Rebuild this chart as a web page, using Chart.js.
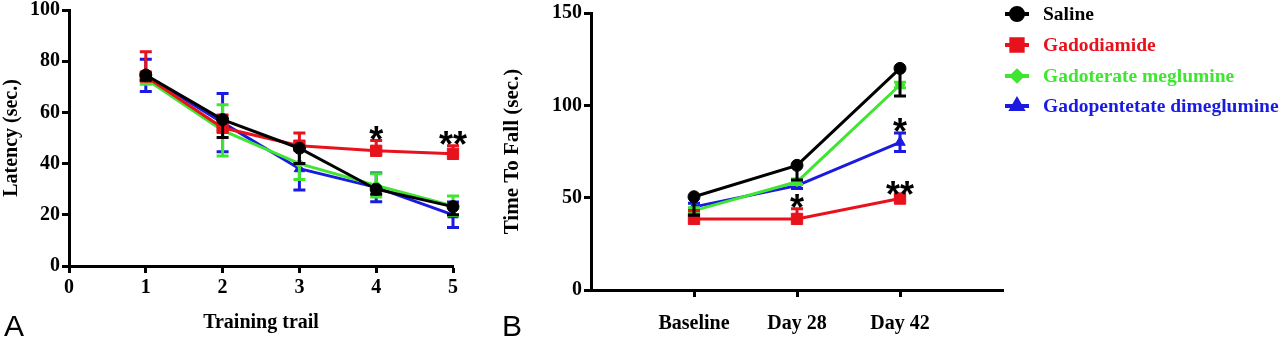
<!DOCTYPE html>
<html>
<head>
<meta charset="utf-8">
<script src="https://cdn.jsdelivr.net/npm/chart.js@4.4.0/dist/chart.umd.min.js"></script>
<style>
  html, body { margin: 0; padding: 0; background: #fff; }
  #wrap { position: relative; width: 1280px; height: 339px; overflow: hidden; }
  #panelA { position: absolute; left: 0; top: 0; }
  #panelB { position: absolute; left: 480px; top: 0; }
  .tag { position: absolute; font: 30px "Liberation Sans", Arial, sans-serif; line-height: 30px; color: #000; }
</style>
</head>
<body>
<div id="wrap">
  <canvas id="panelA" width="480" height="339"></canvas>
  <canvas id="panelB" width="800" height="339"></canvas>
  <div class="tag" style="left:4px; top:311px;">A</div>
  <div class="tag" style="left:502px; top:311px;">B</div>
</div>
<script>
// groups
const groups = ['Saline', 'Gadodiamide', 'Gadoterate meglumine', 'Gadopentetate dimeglumine'];
const colors = ['#000000', '#e8121c', '#3fe530', '#1a1ae0'];
const markers = ['circle', 'rect', 'rectRot', 'triangle'];
const markerSizes = [6, 8, 5, 6];
// which side of the mean each group's SEM bar is drawn on
const barSides = ['down', 'up', 'both', 'both'];

// panel A: latency per training trial
const trials = [1, 2, 3, 4, 5];
const salineA = [74.6, 57.2, 46, 30, 23.2];
const gadodiamideA = [74, 54, 47, 45, 43.8];
const gadoterateA = [73, 53, 40, 31.5, 23.5];
const gadopentetateA = [74.5, 56, 38, 30.7, 20];
const salineAErr = [2, 7, 6, 2, 3.2];
const gadodiamideAErr = [9.7, 5, 5, 4, 3.2];
const gadoterateAErr = [2, 10, 6.2, 4.5, 3.8];
const gadopentetateAErr = [6.3, 11.4, 8.3, 5.6, 5];
// significance marks: [group index, trial, text]
const sigA = [[1, 4, '*'], [1, 5, '**']];

// panel B: time to fall per session
const sessions = ['Baseline', 'Day 28', 'Day 42'];
const salineB = [50.5, 67.5, 120];
const gadodiamideB = [38.5, 38.5, 49.5];
const gadoterateB = [43, 58.6, 111];
const gadopentetateB = [45, 56.5, 80];
const salineBErr = [10, 8, 15];
const gadodiamideBErr = [4.5, 5.5, 1.5];
const gadoterateBErr = [1.5, 1.5, 1.5];
const gadopentetateBErr = [2, 1.5, 5];
const sigB = [[1, 2, '*'], [3, 3, '*'], [1, 3, '**']];

const serif = '"Liberation Serif", "Times New Roman", serif';

function makeDatasets(xs, series, errs) {
  return series.map((vals, g) => ({
    label: groups[g],
    data: vals.map((v, i) => ({ x: xs[i], y: v })),
    errors: errs[g],
    side: barSides[g],
    borderColor: colors[g],
    backgroundColor: colors[g],
    pointBackgroundColor: colors[g],
    pointBorderColor: colors[g],
    pointStyle: markers[g],
    pointRadius: markerSizes[g],
    pointBorderWidth: 1,
    borderWidth: 3,
    tension: 0,
    clip: false
  }));
}

// SEM whiskers, drawn just under each group's own line
const errorBars = {
  id: 'errorBars',
  beforeDatasetDraw(chart, args) {
    const ds = chart.data.datasets[args.index];
    const y = chart.scales.y;
    const ctx = chart.ctx;
    ctx.save();
    ctx.strokeStyle = ds.borderColor;
    ctx.lineWidth = 3;
    args.meta.data.forEach((pt, i) => {
      const v = ds.data[i].y, e = ds.errors[i];
      const ends = [];
      if (ds.side !== 'down') ends.push(y.getPixelForValue(v + e));
      if (ds.side !== 'up') ends.push(y.getPixelForValue(v - e));
      ends.forEach(py => {
        ctx.beginPath();
        ctx.moveTo(pt.x, pt.y);
        ctx.lineTo(pt.x, py);
        ctx.moveTo(pt.x - 6, py);
        ctx.lineTo(pt.x + 6, py);
        ctx.stroke();
      });
    });
    ctx.restore();
  }
};

// asterisks above the SEM bar of the flagged group
const sigMarks = {
  id: 'sigMarks',
  afterDatasetsDraw(chart, args, opts) {
    const ctx = chart.ctx;
    const y = chart.scales.y, x = chart.scales.x;
    ctx.save();
    ctx.fillStyle = '#000';
    ctx.font = 'bold 36px "Liberation Sans", Arial, sans-serif';
    ctx.textAlign = 'center';
    ctx.textBaseline = 'alphabetic';
    opts.marks.forEach(([g, xv, text]) => {
      const ds = chart.data.datasets[g];
      const i = ds.data.findIndex(p => p.x === xv);
      const top = ds.data[i].y + (ds.side === 'down' ? 0 : ds.errors[i]);
      const py = y.getPixelForValue(top);
      ctx.fillText(text, x.getPixelForValue(xv), py + 11);
    });
    ctx.restore();
  }
};

// line-and-marker legend to the right of panel B
const sideLegend = {
  id: 'sideLegend',
  afterDraw(chart, args, opts) {
    const ctx = chart.ctx;
    ctx.save();
    chart.data.datasets.forEach((ds, g) => {
      const yy = opts.rows[g];
      const x0 = opts.x;
      ctx.strokeStyle = ds.borderColor;
      ctx.fillStyle = ds.borderColor;
      ctx.lineWidth = 4;
      ctx.beginPath();
      ctx.moveTo(x0, yy);
      ctx.lineTo(x0 + 24, yy);
      ctx.stroke();
      Chart.helpers.drawPoint(ctx, {
        pointStyle: ds.pointStyle, radius: ds.pointRadius, borderWidth: 1, rotation: 0
      }, x0 + 12, yy);
      ctx.fill();
      ctx.font = 'bold 19.5px ' + serif;
      ctx.textAlign = 'left';
      ctx.textBaseline = 'middle';
      ctx.fillText(ds.label, x0 + 38, yy + 1);
    });
    ctx.restore();
  }
};

function axisBase() {
  return {
    border: { display: true, color: '#000', width: 3 },
    grid: { drawOnChartArea: false, drawTicks: true, tickLength: 7, tickColor: '#000', tickWidth: 3 },
    ticks: { color: '#000', font: { family: serif, size: 20, weight: 'bold', lineHeight: 1 } },
    title: { display: false, color: '#000', font: { family: serif, size: 20, weight: 'bold', lineHeight: 1.2 } }
  };
}

function fixWidth(w) {
  return s => { s.width = w; s.paddingTop = 0; s.paddingBottom = 0; };
}
function fixHeight(h) {
  return s => { s.height = h; s.paddingLeft = 0; s.paddingRight = 0; };
}

// panel A
const xA = axisBase();
Object.assign(xA, { type: 'linear', min: 0, max: 5, afterFit: fixHeight(73) });
xA.ticks.stepSize = 1;
xA.ticks.padding = 5;
xA.title = Object.assign(xA.title, { display: true, text: 'Training trail', padding: { top: 0, bottom: 4 } });

const yA = axisBase();
Object.assign(yA, { min: 0, max: 100, afterFit: fixWidth(69) });
yA.ticks.stepSize = 20;
yA.ticks.padding = 2;
yA.title = Object.assign(yA.title, { display: true, text: 'Latency (sec.)', padding: { top: 0, bottom: 0 } });

new Chart(document.getElementById('panelA'), {
  type: 'line',
  data: {
    datasets: makeDatasets(trials,
      [salineA, gadodiamideA, gadoterateA, gadopentetateA],
      [salineAErr, gadodiamideAErr, gadoterateAErr, gadopentetateAErr])
  },
  options: {
    responsive: false,
    animation: false,
    layout: { padding: { left: 0, right: 27, top: 10, bottom: 0 } },
    scales: { x: xA, y: yA },
    plugins: { legend: { display: false }, tooltip: { enabled: false }, sigMarks: { marks: sigA } }
  },
  plugins: [errorBars, sigMarks]
});

// panel B
const xB = axisBase();
Object.assign(xB, {
  type: 'linear', min: 0, max: 4, afterFit: fixHeight(49),
  afterBuildTicks: s => { s.ticks = sessions.map((_, i) => ({ value: i + 1 })); }
});
xB.ticks.padding = 17;
xB.ticks.callback = v => sessions[v - 1];

const yB = axisBase();
Object.assign(yB, { min: 0, max: 150, afterFit: fixWidth(111) });
yB.ticks.stepSize = 50;
yB.ticks.padding = 2;
yB.title = Object.assign(yB.title, { display: true, text: 'Time To Fall (sec.)', font: { family: serif, size: 21, weight: 'bold', lineHeight: 1.2 }, padding: { top: 20, bottom: 0 } });

new Chart(document.getElementById('panelB'), {
  type: 'line',
  data: {
    datasets: makeDatasets([1, 2, 3],
      [salineB, gadodiamideB, gadoterateB, gadopentetateB],
      [salineBErr, gadodiamideBErr, gadoterateBErr, gadopentetateBErr])
  },
  options: {
    responsive: false,
    animation: false,
    layout: { padding: { left: 0, right: 277, top: 13, bottom: 0 } },
    scales: { x: xB, y: yB },
    plugins: {
      legend: { display: false }, tooltip: { enabled: false },
      sigMarks: { marks: sigB },
      sideLegend: { x: 525, rows: [14, 45, 76, 106] }
    }
  },
  plugins: [errorBars, sigMarks, sideLegend]
});
</script>
</body>
</html>
